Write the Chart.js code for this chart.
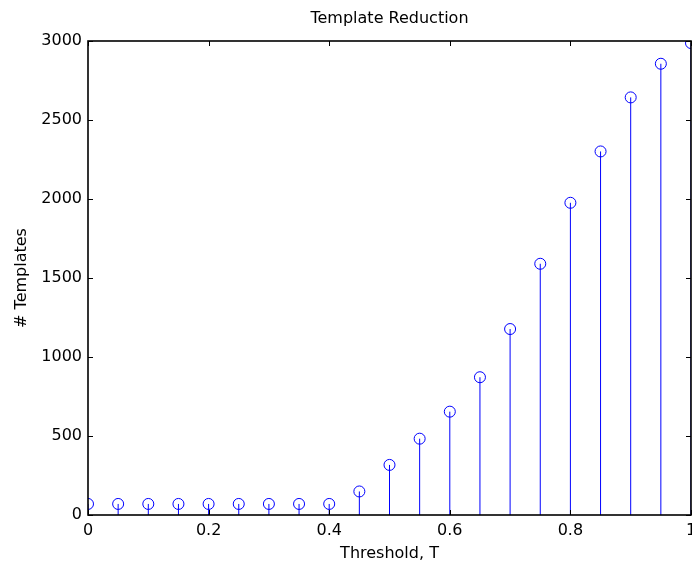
<!DOCTYPE html>
<html>
<head>
<meta charset="utf-8">
<script src="https://cdn.jsdelivr.net/npm/chart.js@4/dist/chart.umd.min.js"></script>
<style>
  html, body { margin: 0; padding: 0; background: #fff; }
  #wrap { width: 692px; height: 563px; }
</style>
</head>
<body>
<div id="wrap"><canvas id="c" width="692" height="563"></canvas></div>
<script>
const thresholds = [0, 0.05, 0.1, 0.15, 0.2, 0.25, 0.3, 0.35, 0.4, 0.45, 0.5, 0.55, 0.6, 0.65, 0.7, 0.75, 0.8, 0.85, 0.9, 0.95, 1];
const templateCounts = [70, 70, 70, 70, 70, 70, 70, 70, 70, 149, 317, 483, 654, 872, 1177, 1590, 1976, 2301, 2643, 2856, 2987];
const xTickValues = [0, 0.2, 0.4, 0.6, 0.8, 1];
const yTickValues = [0, 500, 1000, 1500, 2000, 2500, 3000];
const chartTitle = 'Template Reduction';
const xTitle = 'Threshold, T';
const yTitle = '# Templates';

const BLUE = '#0000ff';
const FONT = '"DejaVu Sans", "Liberation Sans", Arial, sans-serif';
const FS = 16;

// stems: segments from 0 to value, separated by gaps
const stemData = [];
thresholds.forEach((t, i) => {
  stemData.push({ x: t, y: 0 });
  stemData.push({ x: t, y: templateCounts[i] });
  stemData.push({ x: t, y: null });
});
const markerData = thresholds.map((t, i) => ({ x: t, y: templateCounts[i] }));

const bgPlugin = {
  id: 'bg',
  beforeDraw(chart) {
    const ctx = chart.ctx;
    ctx.save();
    ctx.fillStyle = '#fff';
    ctx.fillRect(0, 0, chart.width, chart.height);
    ctx.restore();
  }
};

const boxPlugin = {
  id: 'box',
  afterDatasetsDraw(chart) {
    const { ctx, chartArea: a, scales } = chart;
    const tl = 5;
    ctx.save();
    ctx.strokeStyle = '#000';
    ctx.lineWidth = 1;
    ctx.beginPath();
    xTickValues.forEach(v => {
      const px = Math.round(scales.x.getPixelForValue(v)) + 0.5;
      ctx.moveTo(px, a.bottom); ctx.lineTo(px, a.bottom - tl);
      ctx.moveTo(px, a.top); ctx.lineTo(px, a.top + tl);
    });
    yTickValues.forEach(v => {
      const py = Math.round(scales.y.getPixelForValue(v)) + 0.5;
      ctx.moveTo(a.left, py); ctx.lineTo(a.left + tl, py);
      ctx.moveTo(a.right, py); ctx.lineTo(a.right - tl, py);
    });
    ctx.stroke();
    ctx.lineWidth = 1.6;
    ctx.strokeRect(a.left, a.top, a.right - a.left, a.bottom - a.top);
    ctx.restore();
  }
};

new Chart(document.getElementById('c'), {
  type: 'scatter',
  data: {
    datasets: [
      {
        label: 'stems',
        data: stemData,
        showLine: true,
        spanGaps: false,
        borderColor: BLUE,
        borderWidth: 1,
        pointRadius: 0,
        pointHoverRadius: 0,
        fill: false
      },
      {
        label: 'markers',
        data: markerData,
        showLine: false,
        pointStyle: 'circle',
        pointRadius: 5.5,
        pointHoverRadius: 5.5,
        pointBorderWidth: 1,
        pointBorderColor: BLUE,
        pointBackgroundColor: 'rgba(0,0,0,0)',
        borderColor: BLUE,
        backgroundColor: 'rgba(0,0,0,0)'
      }
    ]
  },
  options: {
    responsive: false,
    animation: false,
    events: [],
    layout: { autoPadding: false, padding: { left: 0, right: 1, top: 0, bottom: 0 } },
    plugins: {
      legend: { display: false },
      tooltip: { enabled: false },
      title: {
        display: true,
        text: chartTitle,
        fullSize: false,
        color: '#000',
        font: { family: FONT, size: FS, weight: 'normal', lineHeight: 1.2 },
        padding: { top: 9, bottom: 41 - 9 - FS * 1.2 }
      }
    },
    scales: {
      x: {
        type: 'linear',
        min: 0,
        max: 1,
        afterFit(scale) { scale.height = 48; scale.paddingLeft = 0; scale.paddingRight = 0; },
        afterBuildTicks(scale) { scale.ticks = xTickValues.map(v => ({ value: v })); },
        grid: { display: false, drawTicks: false },
        border: { display: false },
        ticks: {
          color: '#000',
          padding: 6,
          autoSkip: false,
          maxRotation: 0,
          font: { family: FONT, size: FS },
          callback: v => String(+Number(v).toFixed(2))
        },
        title: {
          display: true,
          text: xTitle,
          color: '#000',
          font: { family: FONT, size: FS, lineHeight: 1.2 },
          padding: { top: 0, bottom: 0 }
        }
      },
      y: {
        type: 'linear',
        min: 0,
        max: 3000,
        afterFit(scale) { scale.width = 88; scale.paddingTop = 0; scale.paddingBottom = 0; },
        afterBuildTicks(scale) { scale.ticks = yTickValues.map(v => ({ value: v })); },
        grid: { display: false, drawTicks: false },
        border: { display: false },
        ticks: {
          color: '#000',
          padding: 6,
          autoSkip: false,
          font: { family: FONT, size: FS },
          callback: v => String(v)
        },
        title: {
          display: true,
          text: yTitle,
          color: '#000',
          font: { family: FONT, size: FS, lineHeight: 1.2 },
          padding: { top: 12, bottom: 0 }
        }
      }
    }
  },
  plugins: [bgPlugin, boxPlugin]
});
</script>
</body>
</html>
